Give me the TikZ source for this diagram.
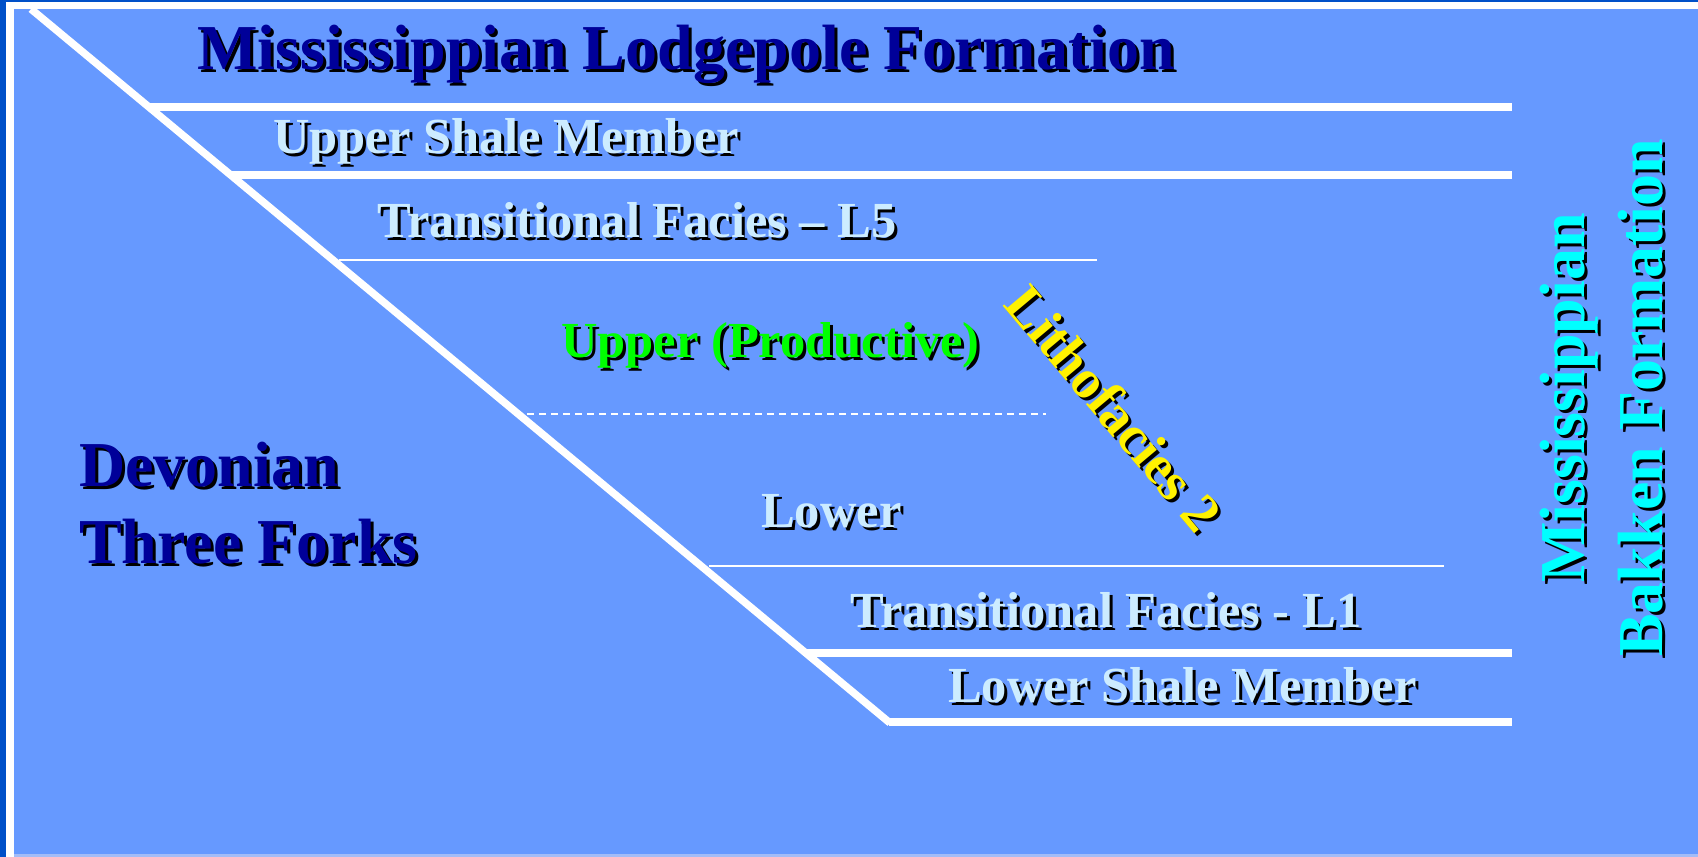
\documentclass[tikz,border=0pt]{standalone}
\usepackage{fontspec}
\setmainfont{Liberation Serif}
\usetikzlibrary{calc}

\definecolor{slideblue}{HTML}{6699FF}
\definecolor{edgeblue}{HTML}{0050C8}
\definecolor{baseblue}{HTML}{A3BCF7}
\definecolor{navy}{HTML}{000099}
\definecolor{palecyan}{HTML}{CCECFF}
\definecolor{brightcyan}{HTML}{00FFFF}

% label with a black drop shadow below it
\newcommand{\castnode}[4][]{%
  \node[shade copy, #1, text=black] at (#3) {#4};
  \node[#1] (#2) at (#3) {#4};
}

\begin{document}
\begin{tikzpicture}[x=1pt, y=-1pt]
  \tikzset{
    shade copy/.style={xshift=3pt, yshift=-3pt},
    label text/.style={inner sep=0pt, anchor=base west,
      font=\bfseries\fontsize{50.5}{60}\selectfont},
    big text/.style={inner sep=0pt,
      font=\bfseries\fontsize{64}{77}\selectfont},
    thick rule/.style={white, line width=7.5pt},
    thin rule/.style={white, line width=2pt},
  }
  \useasboundingbox (0,0) rectangle (1698,857);

  % slide frame
  \fill[white] (0,0) rectangle (1698,857);
  \fill[edgeblue] (0,0) rectangle (6,857);
  \fill[edgeblue] (0,0) rectangle (1698,2);
  \fill[slideblue] (14,9) rectangle (1698,854);
  \fill[baseblue] (14,854) rectangle (1698,857);

  % unconformity
  \coordinate (d0) at (31,9);
  \coordinate (d1) at (890,723);
  \draw[thick rule] (d0) -- (d1);

  % member boundaries
  \foreach \xa/\ya in {150/107, 232/175, 806/653, 889/722}
    \draw[thick rule] (\xa,\ya) -- (1512,\ya);
  \draw[thin rule] (339,260) -- (1097,260);
  \draw[thin rule] (709,566) -- (1444,566);
  \draw[thin rule, dash pattern=on 7pt off 5pt] (527,414) -- (1046,414);

  % labels
  \castnode[big text, anchor=base, text=navy]{lodgepole}{686,69}
    {Mississippian Lodgepole Formation}
  \castnode[label text, text=palecyan]{upshale}{273,153}{Upper Shale Member}
  \castnode[label text, text=palecyan]{faciesL5}{377,237}
    {Transitional Facies – L5}
  \castnode[label text, text=green]{productive}{561,357}{Upper (Productive)}
  \castnode[label text, text=palecyan]{lower}{761,527}{Lower}
  \castnode[label text, text=palecyan]{faciesL1}{850,627}
    {Transitional Facies - L1}
  \castnode[label text, text=palecyan]{lowshale}{948,702}{Lower Shale Member}
  \castnode[big text, anchor=base west, align=left, text=navy]{threeforks}{79,563}
    {Devonian\\Three Forks}
  \castnode[inner sep=0pt, rotate=-50, text=yellow,
    font=\bfseries\fontsize{55}{60}\selectfont]{litho}{1114,408}{Lithofacies 2}
  \castnode[big text, rotate=90, align=center, text=brightcyan,
    font=\bfseries\fontsize{64}{78}\selectfont]{bakken}{1602,398}
    {Mississippian\\Bakken Formation}
\end{tikzpicture}
\end{document}
